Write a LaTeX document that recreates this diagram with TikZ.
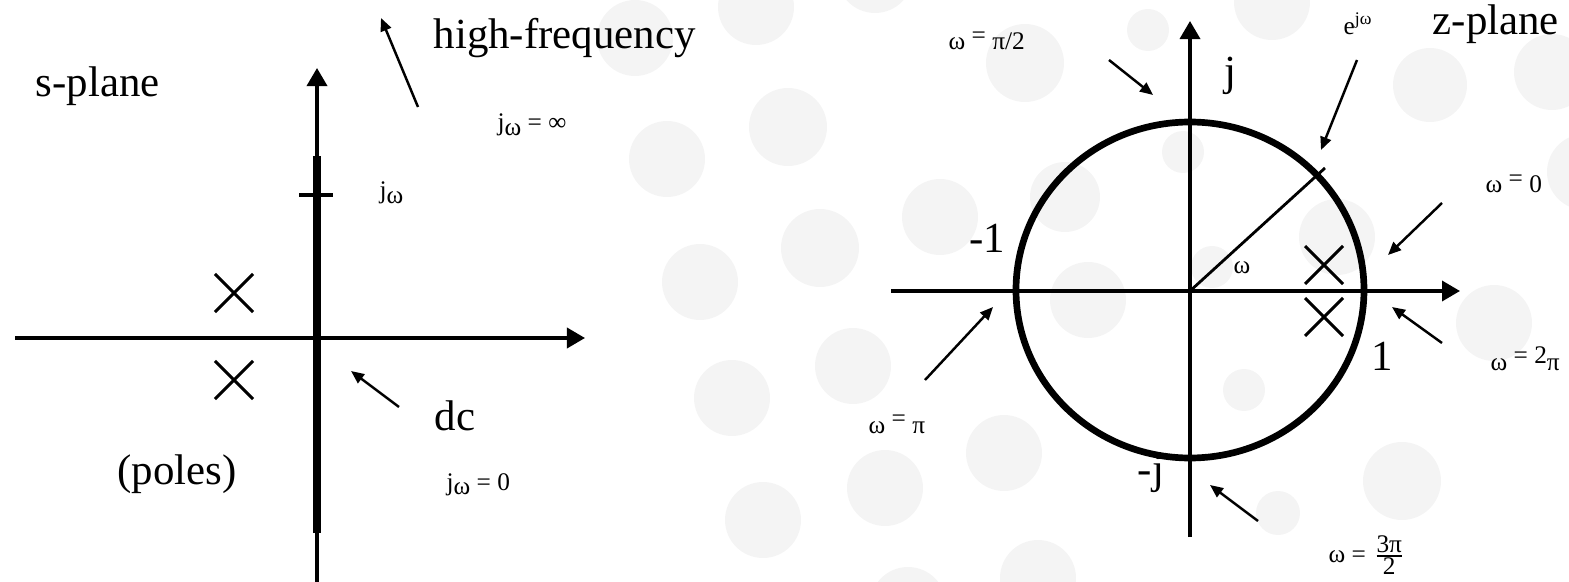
\documentclass[tikz,border=0pt]{standalone}
\usepackage{fontspec}
\setmainfont{Liberation Serif}
\usetikzlibrary{arrows.meta,shapes.misc}
\definecolor{dotgray}{HTML}{F4F4F4}
\newcommand{\jomega}{j\raisebox{-.4ex}{ω}}
\newcommand{\upeq}{\raisebox{.6ex}{=}}

\begin{document}
\begin{tikzpicture}[x=0.01cm, y=-0.01cm,
  axis/.style={line width=1pt, -{Triangle[length=1.8mm,width=2mm]}},
  pointer/.style={line width=0.7pt, -{Triangle[length=1.3mm,width=1.1mm]}},
  pole/.style={draw, cross out, line width=0.85pt, minimum size=3.5mm, inner sep=0pt},
  bigtxt/.style={font=\fontsize{12.2}{15}\selectfont, inner sep=0pt, anchor=base west},
  smalltxt/.style={font=\fontsize{7.2}{8.5}\selectfont, inner sep=0pt, anchor=base west}]
  \useasboundingbox (0,0) rectangle (1569,582);
  % background dots
  \foreach \cx/\cy/\r in {635/38/38, 756/7/38, 875/-25/38, 788/127/39, 667/159/38,
      940/217/38, 820/248/39, 700/282/38, 1025/63/39, 732/398/38, 853/366/38,
      763/520/38, 885/488/38, 1004/453/38, 908/605/38, 1038/578/38, 1065/197/35,
      1088/300/38, 1337/237/38, 1402/481/39, 1494/323/38, 1585/172/38, 1430/85/37,
      1552/72/38, 1272/2/38, 1148/30/21, 1183/152/21, 1212/267/21, 1244/390/21,
      1278/513/22}
    \fill[dotgray] (\cx,\cy) circle (\r);

  % s-plane
  \draw[axis] (317,582) -- (317,68);
  \draw[line width=2.2pt] (317,533) -- (317,156);
  \draw[line width=0.9pt] (299,195) -- (333,195);
  \draw[axis] (15,338) -- (585,338);
  \node[pole] (sp1) at (234,293) {};
  \node[pole] (sp2) at (234,380) {};
  \node[bigtxt] (splane) at (35,97) {s-plane};
  \node[bigtxt] (highfreq) at (433,49) {high-frequency};
  \node[smalltxt] (jwinf) at (497,131) {\jomega\ = ∞};
  \node[smalltxt] (jw) at (379,199) {\jomega};
  \node[bigtxt] (poles) at (117,485) {(poles)};
  \node[bigtxt] (dc) at (434,430) {dc};
  \node[smalltxt] (jwzero) at (446,490) {\jomega\ =\ 0};
  \coordinate (hftail) at (418,107);
  \coordinate (hftip) at (381,18);
  \coordinate (dctail) at (399,407);
  \coordinate (dctip) at (351,371);
  \draw[pointer] (hftail) -- (hftip);
  \draw[pointer] (dctail) -- (dctip);

  % z-plane
  \draw[line width=1.9pt] (1190,290) ellipse [x radius=174, y radius=168];
  \draw[axis] (891,291) -- (1460,291);
  \draw[axis] (1190,537) -- (1190,21);
  \coordinate (zo) at (1190,291);
  \coordinate (unitpt) at (1325,168);
  \draw[line width=0.8pt] (zo) -- (unitpt);
  \node[pole] (zp1) at (1324,265) {};
  \node[pole] (zp2) at (1324,317) {};
  \node[bigtxt] (zplane) at (1432,35) {z-plane};
  \node[bigtxt] (jlabel) at (1224,86) {j};
  \node[bigtxt] (minusone) at (969,253) {-1};
  \node[bigtxt] (one) at (1371,370) {1};
  \node[bigtxt] (minusj) at (1137,483) {-j};
  \node[smalltxt] (ejw) at (1343,35) {e\textsuperscript{jω}};
  \node[smalltxt] (wangle) at (1233,274) {ω};
  \node[smalltxt] (wpihalf) at (948,50) {ω \upeq\ π/2};
  \node[smalltxt] (wzero) at (1485,193) {ω \upeq\ 0};
  \node[smalltxt] (wtwopi) at (1490,370) {ω \raisebox{.6ex}{= 2}π};
  \node[smalltxt] (wpi) at (868,433) {ω \upeq\ π};
  \node[smalltxt] (wthreepi) at (1328,562) {ω = $\frac{\mbox{3π}}{\mbox{2}}$};
  \coordinate (ejwtail) at (1357,60);
  \coordinate (ejwtip) at (1321,150);
  \coordinate (pihalftail) at (1109,60);
  \coordinate (pihalftip) at (1153,95);
  \coordinate (zerotail) at (1442,203);
  \coordinate (zerotip) at (1388,255);
  \coordinate (twopitail) at (1442,343);
  \coordinate (twopitip) at (1392,307);
  \coordinate (pitail) at (925,380);
  \coordinate (pitip) at (993,307);
  \coordinate (threepitail) at (1258,521);
  \coordinate (threepitip) at (1210,485);
  \foreach \a in {ejw,pihalf,zero,twopi,pi,threepi}
    \draw[pointer] (\a tail) -- (\a tip);
\end{tikzpicture}
\end{document}
